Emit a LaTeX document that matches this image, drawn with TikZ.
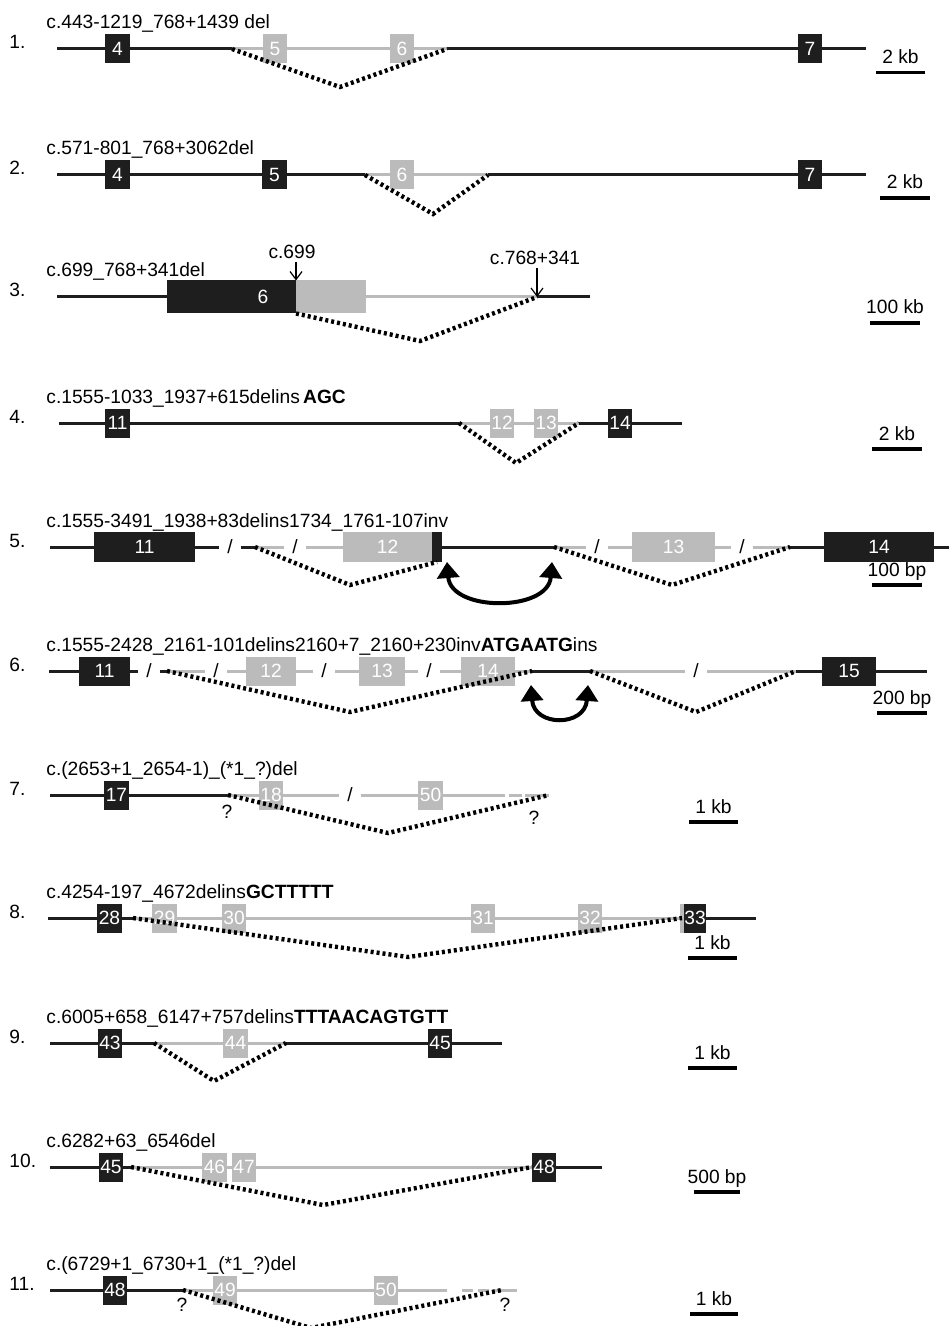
\documentclass[tikz,border=0pt]{standalone}
\usepackage{fontspec}
\setmainfont{Liberation Sans}
\usetikzlibrary{arrows.meta,positioning}
\definecolor{exdark}{HTML}{1E1E1E}
\definecolor{exlight}{HTML}{BBBBBB}
\newcommand{\labfont}{\fontsize{9.6}{11}\selectfont}
\tikzset{
  exk/.style={draw=none, fill=exdark, text=white, font=\labfont, anchor=west, inner sep=0pt, outer sep=0pt, minimum height=14.5pt},
  exg/.style={exk, fill=exlight},
  exw/.style={minimum width=#1*0.5pt},
  bb/.style={draw=exdark, line width=1.5pt},
  gb/.style={draw=exlight, line width=1.5pt},
  del/.style={draw=black, line width=2.2pt, dash pattern=on 1.5pt off 1.5pt},
  lab/.style={font=\labfont, anchor=base west, inner sep=0pt},
  rnum/.style={lab},
  sbar/.style={draw=black, line width=1.9pt},
  stxt/.style={font=\labfont, anchor=base, inner sep=0pt, yshift=4.5pt},
  qm/.style={font=\labfont, inner sep=0pt},
  sl/.style={font=\labfont, inner xsep=4pt, inner ysep=0pt, outer sep=0pt},
  posarr/.style={draw=black, line width=0.6pt, shorten <=1.5pt, -{Straight Barb[length=4pt,width=6pt]}},
  invarr/.style={draw=black, line width=2pt, {Triangle[length=8pt,width=11pt]}-{Triangle[length=8pt,width=11pt]}}
}

\begin{document}
\begin{tikzpicture}[x=0.5pt, y=-0.5pt]
\useasboundingbox (0,0) rectangle (949,1326);
% 1.
\node[rnum] (an) at (9,49) {1.};
\node[lab] (al) at (46,29) {c.443-1219\_768+1439 del};
\node[exk,exw=25] (a4) at (105,49) {4};
\node[exg,exw=24] (a5) at (263,49) {5};
\node[exg,exw=24] (a6) at (390,49) {6};
\node[exk,exw=24] (a7) at (798,49) {7};
\coordinate (a0) at (57,49); \coordinate (a1) at (232,49); \coordinate (a2) at (447,49);
\coordinate (ae) at (866,49); \coordinate (av) at (340,87);
\draw[bb] (a0) -- (a4) (a4) -- (a1);
\draw[gb] (a1) -- (a5) (a5) -- (a6) (a6) -- (a2);
\draw[bb] (a2) -- (a7) (a7) -- (ae);
\draw[del] (a1) -- (av) -- (a2);
\coordinate (ak1) at (876,72.5); \coordinate (ak2) at (925,72.5);
\draw[sbar] (ak1) -- (ak2) node[midway, stxt] (ak) {2 kb};
% 2.
\node[rnum] (bn) at (9,175) {2.};
\node[lab] (bl) at (46,155) {c.571-801\_768+3062del};
\node[exk,exw=25] (b4) at (105,175) {4};
\node[exk,exw=25] (b5) at (262,175) {5};
\node[exg,exw=24] (b6) at (390,175) {6};
\node[exk,exw=24] (b7) at (798,175) {7};
\coordinate (b0) at (57,175); \coordinate (b1) at (365,175); \coordinate (b2) at (488,175);
\coordinate (be) at (866,175); \coordinate (bv) at (433,214);
\draw[bb] (b0) -- (b4) (b4) -- (b5) (b5) -- (b1);
\draw[gb] (b1) -- (b6) (b6) -- (b2);
\draw[bb] (b2) -- (b7) (b7) -- (be);
\draw[del] (b1) -- (bv) -- (b2);
\coordinate (bk1) at (880,198); \coordinate (bk2) at (930,198);
\draw[sbar] (bk1) -- (bk2) node[midway, stxt] (bk) {2 kb};
% 3.
\node[rnum] (cn) at (9,297) {3.};
\node[lab] (cl) at (46,277) {c.699\_768+341del};
\node[exk,exw=129,minimum height=16.5pt] (c6) at (167,297) {};
\node[qm,text=white] (c6t) at (263,297) {6};
\node[exg,exw=70,minimum height=16.5pt] (cg) at (296,297) {};
\coordinate (c0) at (57,297); \coordinate (c1) at (537,297); \coordinate (ce) at (590,297);
\coordinate (cv) at (420,341);
\draw[bb] (c0) -- (c6);
\draw[gb] (cg) -- (c1);
\draw[bb] (c1) -- (ce);
\draw[del] (c6.south east) -- (cv) -- (c1);
\node[qm] (cp1) at (292,252) {c.699};
\draw[posarr] (cp1.south -| c6.east) -- (c6.north east);
\node[qm] (cp2) at (535,258) {c.768+341};
\draw[posarr] (cp2.south -| c1) -- (c1);
\coordinate (ck1) at (870,323); \coordinate (ck2) at (920,323);
\draw[sbar] (ck1) -- (ck2) node[midway, stxt] (ck) {100 kb};
% 4.
\node[rnum] (dn) at (9,423) {4.};
\node[lab] (dl) at (46,403) {c.1555-1033\_1937+615delins\,\textbf{AGC}};
\node[exk,exw=25] (d11) at (105,423) {11};
\node[exg,exw=24] (d12) at (490,423) {12};
\node[exg,exw=24] (d13) at (534,423) {13};
\node[exk,exw=24] (d14) at (608,423) {14};
\coordinate (d0) at (59,423); \coordinate (d1) at (459,423); \coordinate (d2) at (579,423);
\coordinate (de) at (682,423); \coordinate (dv) at (516,463);
\draw[bb] (d0) -- (d11) (d11) -- (d1);
\draw[gb] (d1) -- (d12) (d12) -- (d13) (d13) -- (d2);
\draw[bb] (d2) -- (d14) (d14) -- (de);
\draw[del] (d1) -- (dv) -- (d2);
\coordinate (dk1) at (872,449); \coordinate (dk2) at (922,449);
\draw[sbar] (dk1) -- (dk2) node[midway, stxt] (dk) {2 kb};
% 5.
\node[rnum] (en) at (9,547) {5.};
\node[lab] (el) at (46,527) {c.1555-3491\_1938+83delins1734\_1761-107inv};
\node[exk,exw=101,minimum height=15pt] (e11) at (94,547) {11};
\node[exg,exw=89,minimum height=15pt] (e12) at (343,547) {12};
\node[exk,exw=10,minimum height=15pt] (e12k) at (432,547) {};
\node[exg,exw=83,minimum height=15pt] (e13) at (632,547) {13};
\node[exk,exw=110,minimum height=15pt] (e14) at (824,547) {14};
\node[sl] (es1) at (230,547) {/};
\node[sl] (es2) at (295,547) {/};
\node[sl] (es3) at (597,547) {/};
\node[sl] (es4) at (742,547) {/};
\coordinate (e0) at (50,547); \coordinate (e1) at (255,547); \coordinate (e2) at (554,547);
\coordinate (e3) at (790,547); \coordinate (ee) at (949,547);
\coordinate (ev1) at (350,585); \coordinate (ev2) at (672,585);
\draw[bb] (e0) -- (e11) (e11) -- (es1) (es1) -- (e1);
\draw[gb] (e1) -- (es2) (es2) -- (e12);
\draw[bb] (e12k) -- (e2);
\draw[gb] (e2) -- (es3) (es3) -- (e13) (e13) -- (es4) (es4) -- (e3);
\draw[bb] (e3) -- (e14) (e14) -- (ee);
\draw[del] (e1) -- (ev1) -- (e12k.south);
\draw[del] (e2) -- (ev2) -- (e3);
\coordinate (eia) at (447,562); \coordinate (eib) at (552,562);
\draw[invarr] (eia) .. controls +(4,50) and +(-4,50) .. (eib);
\coordinate (ek1) at (872,585); \coordinate (ek2) at (922,585);
\draw[sbar] (ek1) -- (ek2) node[midway, stxt] (ek) {100 bp};
% 6.
\node[rnum] (fn) at (9,671) {6.};
\node[lab] (fl) at (46,651) {c.1555-2428\_2161-101delins2160+7\_2160+230inv\textbf{ATGAATG}ins};
\node[exk,exw=51] (f11) at (79,671) {11};
\node[exg,exw=50] (f12) at (246,671) {12};
\node[exg,exw=46] (f13) at (359,671) {13};
\node[exg,exw=54] (f14) at (461,671) {14};
\node[exk,exw=54] (f15) at (822,671) {15};
\node[sl] (fs1) at (149,671) {/};
\node[sl] (fs2) at (216,671) {/};
\node[sl] (fs3) at (324,671) {/};
\node[sl] (fs4) at (429,671) {/};
\node[sl] (fs5) at (696,671) {/};
\coordinate (f0) at (49,671); \coordinate (f1) at (167,671); \coordinate (f2) at (532,671);
\coordinate (f3) at (590,671); \coordinate (f4) at (796,671); \coordinate (fe) at (927,671);
\coordinate (fv1) at (350,712); \coordinate (fv2) at (696,712);
\draw[bb] (f0) -- (f11) (f11) -- (fs1) (fs1) -- (f1);
\draw[gb] (f1) -- (fs2) (fs2) -- (f12) (f12) -- (fs3) (fs3) -- (f13) (f13) -- (fs4) (fs4) -- (f14) (f14) -- (f2);
\draw[bb] (f2) -- (f3);
\draw[gb] (f3) -- (fs5) (fs5) -- (f4);
\draw[bb] (f4) -- (f15) (f15) -- (fe);
\draw[del] (f1) -- (fv1) -- (f2);
\draw[del] (f3) -- (fv2) -- (f4);
\coordinate (fia) at (531,685); \coordinate (fib) at (588,685);
\draw[invarr] (fia) .. controls +(3,42) and +(-3,42) .. (fib);
\coordinate (fk1) at (877,713); \coordinate (fk2) at (927,713);
\draw[sbar] (fk1) -- (fk2) node[midway, stxt] (fk) {200 bp};
% 7.
\node[rnum] (gn) at (9,795) {7.};
\node[lab] (gl) at (46,775) {c.(2653+1\_2654-1)\_(*1\_?)del};
\node[exk,exw=25] (g17) at (104,795) {17};
\node[exg,exw=24] (g18) at (259,795) {18};
\node[exg,exw=25] (g50) at (418,795) {50};
\node[sl] (gs1) at (350,795) {/};
\coordinate (g0) at (50,795); \coordinate (g1) at (228,795); \coordinate (g2) at (505,795);
\coordinate (g3) at (509,795); \coordinate (g4) at (549,795); \coordinate (gv) at (388,833);
\draw[bb] (g0) -- (g17) (g17) -- (g1);
\draw[gb] (g1) -- (g18) (g18) -- (gs1) (gs1) -- (g50) (g50) -- (g2);
\draw[gb, dash pattern=on 6.5pt off 1.5pt on 12pt off 1pt] (g3) -- (g4);
\draw[del] (g1) -- (gv) -- (g4);
\node[qm] (gq1) at (227,812) {?};
\node[qm] (gq2) at (534,818) {?};
\coordinate (gk1) at (689,822); \coordinate (gk2) at (738,822);
\draw[sbar] (gk1) -- (gk2) node[midway, stxt] (gk) {1 kb};
% 8.
\node[rnum] (hn) at (9,918) {8.};
\node[lab] (hl) at (46,898) {c.4254-197\_4672delins\textbf{GCTTTTT}};
\node[exk,exw=25] (h28) at (97,918) {28};
\node[exg,exw=25] (h29) at (152,918) {29};
\node[exg,exw=24] (h30) at (222,918) {30};
\node[exg,exw=24] (h31) at (471,918) {31};
\node[exg,exw=24] (h32) at (578,918) {32};
\node[exg,exw=4] (h33g) at (680,918) {};
\node[exk,exw=22] (h33) at (684,918) {33};
\coordinate (h0) at (48,918); \coordinate (h1) at (133,918); \coordinate (he) at (756,918);
\coordinate (hv) at (408,957);
\draw[bb] (h0) -- (h28) (h28) -- (h1);
\draw[gb] (h1) -- (h29) (h29) -- (h30) (h30) -- (h31) (h31) -- (h32) (h32) -- (h33g);
\draw[bb] (h33) -- (he);
\draw[del] (h1) -- (hv) -- (h33g.center);
\coordinate (hk1) at (688,958); \coordinate (hk2) at (737,958);
\draw[sbar] (hk1) -- (hk2) node[midway, stxt] (hk) {1 kb};
% 9.
\node[rnum] (jn) at (9,1043) {9.};
\node[lab] (jl) at (46,1023) {c.6005+658\_6147+757delins\textbf{TTTAACAGTGTT}};
\node[exk,exw=24] (j43) at (98,1043) {43};
\node[exg,exw=25] (j44) at (223,1043) {44};
\node[exk,exw=24] (j45) at (428,1043) {45};
\coordinate (j0) at (50,1043); \coordinate (j1) at (154,1043); \coordinate (j2) at (286,1043);
\coordinate (je) at (502,1043); \coordinate (jv) at (214,1081);
\draw[bb] (j0) -- (j43) (j43) -- (j1);
\draw[gb] (j1) -- (j44) (j44) -- (j2);
\draw[bb] (j2) -- (j45) (j45) -- (je);
\draw[del] (j1) -- (jv) -- (j2);
\coordinate (jk1) at (688,1068); \coordinate (jk2) at (737,1068);
\draw[sbar] (jk1) -- (jk2) node[midway, stxt] (jk) {1 kb};
% 10.
\node[rnum] (mn) at (9,1167) {10.};
\node[lab] (ml) at (46,1147) {c.6282+63\_6546del};
\node[exk,exw=24] (m45) at (99,1167) {45};
\node[exg,exw=25] (m46) at (202,1167) {46};
\node[exg,exw=24] (m47) at (232,1167) {47};
\node[exk,exw=24] (m48) at (532,1167) {48};
\coordinate (m0) at (50,1167); \coordinate (m1) at (131,1167); \coordinate (me) at (602,1167);
\coordinate (mv) at (323,1205);
\draw[bb] (m0) -- (m45) (m45) -- (m1);
\draw[gb] (m1) -- (m46) (m46) -- (m47) (m47) -- (m48);
\draw[bb] (m48) -- (me);
\draw[del] (m1) -- (mv) -- (m48.west);
\coordinate (mk1) at (694,1192); \coordinate (mk2) at (740,1192);
\draw[sbar] (mk1) -- (mk2) node[midway, stxt] (mk) {500 bp};
% 11.
\node[rnum] (qn) at (9,1290) {11.};
\node[lab] (ql) at (46,1270) {c.(6729+1\_6730+1\_(*1\_?)del};
\node[exk,exw=24] (q48) at (103,1290) {48};
\node[exg,exw=24] (q49) at (213,1290) {49};
\node[exg,exw=24] (q50) at (374,1290) {50};
\coordinate (q0) at (50,1290); \coordinate (q1) at (183,1290); \coordinate (q2) at (447,1290);
\coordinate (q3) at (462,1290); \coordinate (q4) at (517,1290); \coordinate (qw) at (502,1290);
\coordinate (qv) at (311,1328);
\draw[bb] (q0) -- (q48) (q48) -- (q1);
\draw[gb] (q1) -- (q49) (q49) -- (q50) (q50) -- (q2);
\draw[gb, dash pattern=on 5.5pt off 2.5pt on 5.5pt off 2pt on 12pt off 1pt] (q3) -- (q4);
\draw[del] (q1) -- (qv) -- (qw);
\node[qm] (qq1) at (182,1305) {?};
\node[qm] (qq2) at (505,1305) {?};
\coordinate (qk1) at (690,1314); \coordinate (qk2) at (738,1314);
\draw[sbar] (qk1) -- (qk2) node[midway, stxt] (qk) {1 kb};
\end{tikzpicture}
\end{document}
